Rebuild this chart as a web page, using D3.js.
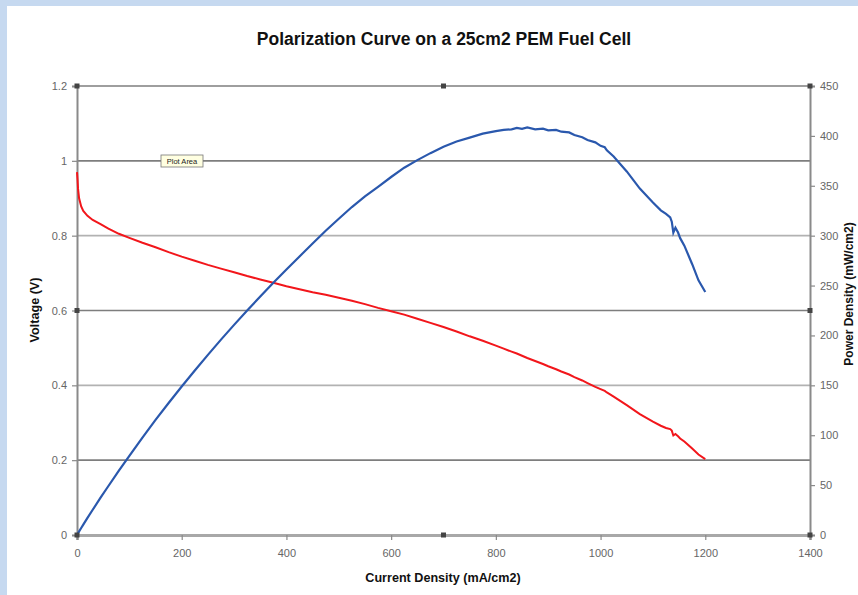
<!DOCTYPE html>
<html>
<head>
<meta charset="utf-8">
<script src="https://cdn.jsdelivr.net/npm/d3@7"></script>
<style>
  body { margin: 0; background: #c6d9f0; }
  svg { display: block; font-family: "Liberation Sans", Arial, sans-serif; }
</style>
</head>
<body>
<svg id="chart" width="858" height="595"></svg>
<script>
// current density (mA/cm2)
const currentDensity = [0, 1, 2, 4, 8, 12, 20, 30, 45, 60, 80, 100, 125, 150, 175, 200, 225, 250, 275, 300,
  325, 350, 375, 400, 425, 450, 475, 500, 525, 550, 575, 600, 625, 650, 675, 700, 725, 750, 775, 800,
  815, 830, 840, 850, 860, 875, 890, 900, 915, 925, 940, 950, 965, 975, 990, 1000, 1008, 1012, 1025,
  1050, 1075, 1100, 1115, 1125, 1133, 1136, 1139, 1143, 1148, 1152, 1160, 1175, 1187, 1200];

// cell voltage (V)
const voltage = [0.970, 0.950, 0.925, 0.900, 0.878, 0.866, 0.853, 0.842, 0.831, 0.819, 0.805, 0.794, 0.781, 0.769, 0.756, 0.744, 0.733, 0.722, 0.712, 0.702,
  0.692, 0.683, 0.674, 0.665, 0.657, 0.649, 0.642, 0.634, 0.626, 0.617, 0.607, 0.598, 0.589, 0.578, 0.567, 0.556, 0.544, 0.531, 0.519, 0.506,
  0.498, 0.490, 0.485, 0.479, 0.473, 0.465, 0.457, 0.451, 0.443, 0.437, 0.429, 0.422, 0.413, 0.406, 0.396, 0.390, 0.385, 0.381, 0.370,
  0.347, 0.323, 0.303, 0.292, 0.286, 0.283, 0.279, 0.266, 0.270, 0.264, 0.258, 0.250, 0.231, 0.215, 0.203];

// power density (mW/cm2)
const powerDensity = [0, 1.0, 1.9, 3.6, 7.0, 10.4, 17.1, 25.3, 37.4, 49.1, 64.4, 79.4, 97.6, 115.4, 132.3, 148.8, 164.9, 180.5, 195.8, 210.6,
  224.9, 239.1, 252.8, 266.0, 279.2, 292.1, 305.0, 317.0, 328.7, 339.4, 349.0, 358.8, 368.1, 375.7, 382.7, 389.2, 394.4, 398.3, 402.2, 404.8,
  406.1, 406.6, 408.0, 407.0, 408.4, 406.6, 407.3, 405.6, 406.0, 404.2, 403.5, 400.9, 398.6, 395.9, 393.5, 390.0, 388.6, 385.6, 379.3,
  364.4, 347.2, 333.3, 325.4, 321.8, 318.4, 314.0, 303.0, 308.0, 303.1, 297.5, 290.0, 271.4, 255.2, 243.6];

const voltageTicks = [0, 0.2, 0.4, 0.6, 0.8, 1, 1.2];
const powerTicks = [0, 50, 100, 150, 200, 250, 300, 350, 400, 450];
const currentTicks = [0, 200, 400, 600, 800, 1000, 1200, 1400];

const svg = d3.select('#chart');
const plotL = 77, plotR = 810, plotT = 86, plotB = 535;

svg.append('rect').attr('x', 7).attr('y', 6).attr('width', 851).attr('height', 589).attr('fill', '#fff');

let x = d3.scaleLinear().domain([0, 1400]).range([plotL, plotR]);
let yV = d3.scaleLinear().domain([0, 1.2]).range([plotB, plotT]);
let yP = d3.scaleLinear().domain([0, 450]).range([plotB, plotT]);

// gridlines
svg.append('g').selectAll('line').data(voltageTicks.filter(d => d > 0)).join('line')
  .attr('x1', plotL).attr('x2', plotR)
  .attr('y1', d => yV(d)).attr('y2', d => yV(d))
  .attr('stroke', d => (d === 0.8 || d === 0.4) ? '#b2b2b2' : '#7e7e7e')
  .attr('stroke-width', 1.6);

// axes
let axL = svg.append('g').attr('transform', `translate(${plotL},0)`)
  .call(d3.axisLeft(yV).tickValues(voltageTicks).tickSize(5).tickPadding(5).tickFormat(d => String(+d.toFixed(1))));
let axR = svg.append('g').attr('transform', `translate(${plotR},0)`)
  .call(d3.axisRight(yP).tickValues(powerTicks).tickSize(5).tickPadding(5).tickFormat(d3.format('d')));
let axB = svg.append('g').attr('transform', `translate(0,${plotB})`)
  .call(d3.axisBottom(x).tickValues(currentTicks).tickSize(5).tickPadding(9).tickFormat(d3.format('d')));

[axL, axR, axB].forEach(a => {
  a.select('.domain').attr('stroke', '#8a8a8a').attr('stroke-width', 2);
  a.selectAll('.tick line').attr('stroke', '#8a8a8a').attr('stroke-width', 1.2);
  a.selectAll('.tick text').attr('fill', '#666').attr('font-size', 11)
    .attr('font-family', '"Liberation Sans", Arial, sans-serif');
});
axB.select('.domain').attr('stroke', '#a8a8a8').attr('stroke-width', 3);

// series
let lineV = d3.line().x((d, i) => x(currentDensity[i])).y(d => yV(d));
let lineP = d3.line().x((d, i) => x(currentDensity[i])).y(d => yP(d));

svg.append('path').datum(voltage)
  .attr('fill', 'none').attr('stroke', '#f2161b').attr('stroke-width', 2).attr('d', lineV);
svg.append('path').datum(powerDensity)
  .attr('fill', 'none').attr('stroke', '#2a58ad').attr('stroke-width', 2.2).attr('d', lineP);

// selection handles of the plot area
const handles = [[plotL, plotT], [(plotL + plotR) / 2, plotT], [plotR, plotT],
  [plotL, (plotT + plotB) / 2], [plotR, (plotT + plotB) / 2],
  [plotL, plotB], [(plotL + plotR) / 2, plotB], [plotR, plotB]];
svg.append('g').selectAll('rect').data(handles).join('rect')
  .attr('x', d => d[0] - 2.5).attr('y', d => d[1] - 2.5)
  .attr('width', 5).attr('height', 5).attr('fill', '#444');

// titles
svg.append('text').attr('x', 444).attr('y', 45).attr('text-anchor', 'middle')
  .attr('font-size', 17.5).attr('font-weight', 'bold').attr('fill', '#111')
  .text('Polarization Curve on a 25cm2 PEM Fuel Cell');
svg.append('text').attr('x', 443).attr('y', 582).attr('text-anchor', 'middle')
  .attr('font-size', 12.6).attr('font-weight', 'bold').attr('fill', '#111')
  .text('Current Density (mA/cm2)');
svg.append('text').attr('transform', 'translate(39,310) rotate(-90)').attr('text-anchor', 'middle')
  .attr('font-size', 12.6).attr('font-weight', 'bold').attr('fill', '#111')
  .text('Voltage (V)');
svg.append('text').attr('transform', 'translate(853,294) rotate(-90)').attr('text-anchor', 'middle')
  .attr('font-size', 12).attr('font-weight', 'bold').attr('fill', '#111')
  .text('Power Density (mW/cm2)');

// "Plot Area" tooltip
let tip = svg.append('g').attr('transform', 'translate(161,155)');
tip.append('rect').attr('width', 42).attr('height', 12).attr('fill', '#ffffe1').attr('stroke', '#777').attr('stroke-width', 0.8);
tip.append('text').attr('x', 21).attr('y', 9).attr('text-anchor', 'middle').attr('font-size', 7.5).attr('fill', '#222').text('Plot Area');
</script>
</body>
</html>
